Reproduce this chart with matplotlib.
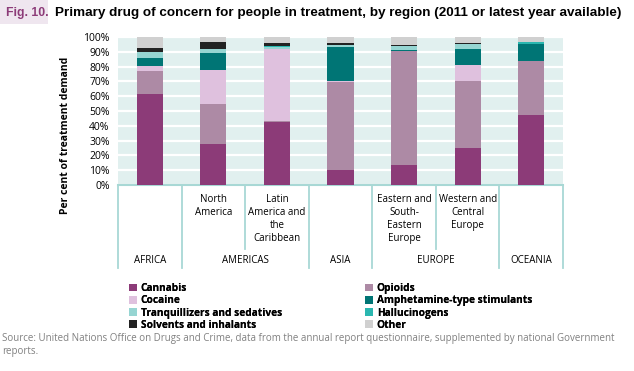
import matplotlib
matplotlib.use('Agg')
import matplotlib.pyplot as plt
from matplotlib.patches import Rectangle

# data (percent of treatment demand)
subregions = ['', 'North\nAmerica', 'Latin\nAmerica and\nthe\nCaribbean', '',
              'Eastern and\nSouth-\nEastern\nEurope', 'Western and\nCentral\nEurope', '']
regions = ['AFRICA', 'AMERICAS', 'ASIA', 'EUROPE', 'OCEANIA']
region_pos = [0, 1.5, 3, 4.5, 6]

cannabis = [61.3, 27.6, 42.5, 10.1, 13.5, 24.9, 47.2]
opioids = [15.5, 27.0, 0.9, 59.6, 76.8, 45.2, 36.4]
cocaine = [3.4, 22.9, 48.3, 0.3, 0.5, 10.8, 0.0]
ats = [5.4, 11.5, 0.4, 23.3, 0.7, 10.8, 11.5]
tranq = [4.0, 2.7, 1.2, 1.1, 2.2, 3.4, 0.5]
halluc = [0.4, 0.4, 0.6, 0.0, 0.3, 0.3, 0.7]
solvents = [2.9, 4.3, 1.8, 1.3, 0.7, 0.6, 0.0]
other = [7.1, 3.6, 4.3, 4.3, 5.3, 4.0, 3.7]

series = [
    ('Cannabis', cannabis, '#8c3b78'),
    ('Opioids', opioids, '#ad8aa5'),
    ('Cocaine', cocaine, '#dfc1de'),
    ('Amphetamine-type stimulants', ats, '#007575'),
    ('Tranquillizers and sedatives', tranq, '#96d5d2'),
    ('Hallucinogens', halluc, '#2ab7b0'),
    ('Solvents and inhalants', solvents, '#222222'),
    ('Other', other, '#d0d0d0'),
]

plt.rcParams['font.family'] = ['Open Sans', 'DejaVu Sans']
line_col = '#a8d8d5'

W, H = 634, 371
fig = plt.figure(figsize=(W / 100, H / 100), dpi=100)

# title
fig.patches.append(Rectangle((0, 1 - 24 / H), 48 / W, 24 / H, transform=fig.transFigure,
                             facecolor='#efe6ef', edgecolor='none'))
fig.text(6 / W, 1 - 13 / H, 'Fig. 10.', color='#8c3b78', fontsize=8.8, fontweight='bold',
         va='center', family=['Liberation Sans'])
fig.text(55 / W, 1 - 13 / H,
         'Primary drug of concern for people in treatment, by region (2011 or latest year available)',
         fontsize=9.7, fontweight='bold', va='center', family=['Liberation Sans'])

ax = fig.add_axes([118 / W, 1 - 185 / H, 445 / W, 148 / H])
ax.set_facecolor('#e1f0ef')
x = list(range(len(cannabis)))
bottom = [0] * len(x)
for name, vals, col in series:
    ax.bar(x, vals, width=0.41, bottom=bottom, color=col, label=name, zorder=3)
    bottom = [b + v for b, v in zip(bottom, vals)]

ax.set_xlim(-0.5, 6.5)
ax.set_ylim(0, 100)
ax.set_yticks(range(0, 101, 10))
ax.set_yticklabels([f'{v}%' for v in range(0, 101, 10)], fontsize=7.5)
ax.tick_params(length=0, pad=6)
ax.set_xticks([])
ax.grid(axis='y', color='white', linewidth=1.6, zorder=1)
for s in ax.spines.values():
    s.set_visible(False)

# category table below the axis
tr = ax.get_xaxis_transform()
ax.plot([-0.5, 6.5], [0, 0], color=line_col, lw=1.5, transform=tr, clip_on=False)
for b in [-0.5, 0.5, 2.5, 3.5, 5.5, 6.5]:
    ax.plot([b, b], [0, -0.56], color=line_col, lw=1.3, transform=tr, clip_on=False)
for b in [1.5, 4.5]:
    ax.plot([b, b], [0, -0.43], color=line_col, lw=1.3, transform=tr, clip_on=False)
for i, lab in enumerate(subregions):
    ax.text(i, -0.06, lab, transform=tr, ha='center', va='top', fontsize=7,
            linespacing=1.25)
for p, lab in zip(region_pos, regions):
    ax.text(p, -0.51, lab, transform=tr, ha='center', va='center', fontsize=7)

fig.text(65 / W, 1 - 135 / H, 'Per cent of treatment demand', rotation=90,
         ha='center', va='center', fontsize=7.5, fontweight='bold')

# legend in two columns
handles, labels = ax.get_legend_handles_labels()
for cols, x0 in [([0, 2, 4, 6], 124), ([1, 3, 5, 7], 360)]:
    lg = fig.legend([handles[i] for i in cols], [labels[i] for i in cols],
                    loc='upper left', bbox_to_anchor=(x0 / W, 1 - 278 / H), frameon=False,
                    prop={'size': 7.3, 'weight': 'bold'}, handlelength=0.8, handleheight=0.8,
                    handletextpad=0.35, labelspacing=0.12, borderpad=0)
    fig.add_artist(lg)

fig.text(2 / W, 1 - 345 / H,
         'Source: United Nations Office on Drugs and Crime, data from the annual report questionnaire, supplemented by national Government\nreports.',
         fontsize=7.0, color='#808080', va='center', linespacing=1.3)

fig.savefig('out.png', dpi=100)
